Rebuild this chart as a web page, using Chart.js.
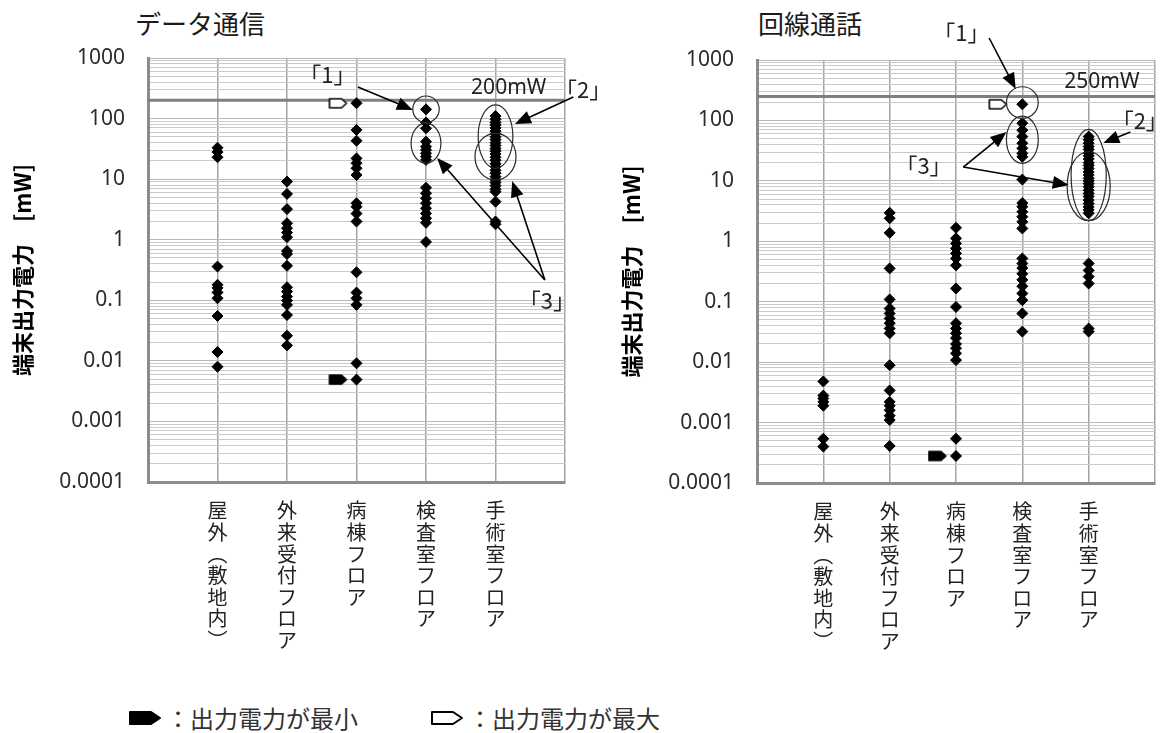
<!DOCTYPE html>
<html lang="ja">
<head>
<meta charset="utf-8">
<script src="https://cdn.jsdelivr.net/npm/chart.js@4.4.1/dist/chart.umd.min.js"></script>
<style>
  body { margin: 0; background: #fff; width: 1173px; height: 733px; position: relative; overflow: hidden;
         font-family: "Noto Sans CJK JP", "Noto Sans", sans-serif; color: #222; }
  .title { position: absolute; top: 7px; font-size: 26px; line-height: 32px; color: #1a1a1a; }
  canvas { position: absolute; top: 0; }
  #commChart { left: 0; }
  #voiceChart { left: 609px; }
  .legend { position: absolute; top: 702px; font-size: 24px; line-height: 32px; color: #333; display: flex; align-items: center; }
  .legend svg { margin-right: 4px; }
</style>
</head>
<body>
<div class="title" style="left:135px">データ通信</div>
<div class="title" style="left:758px">回線通話</div>
<canvas id="commChart" width="608" height="700"></canvas>
<canvas id="voiceChart" width="564" height="700"></canvas>
<div class="legend" style="left:128px">
  <svg width="34" height="16"><path d="M2 2 H23 L32 8 L23 14 H2 Z" fill="#000" stroke="#000" stroke-width="2" stroke-linejoin="round"/></svg>
  <span>：出力電力が最小</span>
</div>
<div class="legend" style="left:430px">
  <svg width="34" height="16"><path d="M2 2 H23 L32 8 L23 14 H2 Z" fill="#fff" stroke="#000" stroke-width="2" stroke-linejoin="round"/></svg>
  <span>：出力電力が最大</span>
</div>
<script>
// categories (x axis) and y tick labels
const categories = ["屋外（敷地内）", "外来受付フロア", "病棟フロア", "検査室フロア", "手術室フロア"];
const yTickLabels = ["1000", "100", "10", "1", "0.1", "0.01", "0.001", "0.0001"];

// データ通信 [mW]
const commOutdoor = [33, 28, 23, 0.36, 0.18, 0.16, 0.135, 0.108, 0.055, 0.014, 0.008];
const commReception = [9.1, 5.7, 3.2, 1.87, 1.55, 1.31, 1.1, 0.65, 0.58, 0.37, 0.164, 0.139, 0.115, 0.099, 0.084, 0.057, 0.026, 0.018];
const commWard = [179, 65, 43, 22, 18.3, 15.1, 11.7, 4.0, 3.5, 2.7, 2.0, 0.29, 0.134, 0.108, 0.084, 0.0091, 0.0049];
const commExam = [142, 86, 69, 41.6, 34.4, 30.3, 26.7, 23.5, 20.8, 7.2, 5.85, 4.84, 4.0, 3.3, 2.7, 2.26, 1.9, 0.92];
const commSurgery = [110, 97, 86, 78, 70, 62, 56, 50, 45, 40, 36, 32, 29, 26, 23, 20.5, 18, 16, 14, 12.5, 11, 9.8, 8.8, 7.8, 6.8, 6.2, 4.25, 2.0, 1.8];
const commMax = [{ cat: 3, value: 179 }];
const commMin = [{ cat: 3, value: 0.0049 }];
const commLimit = 200;

// 回線通話 [mW]
const voiceOutdoor = [0.0048, 0.0028, 0.0025, 0.0022, 0.0019, 0.00054, 0.0004];
const voiceReception = [2.96, 2.4, 1.38, 0.356, 0.109, 0.077, 0.064, 0.053, 0.044, 0.036, 0.03, 0.0089, 0.0034, 0.0022, 0.0019, 0.0016, 0.0013, 0.0011, 0.00041];
const voiceWard = [1.67, 1.12, 0.92, 0.76, 0.63, 0.52, 0.4, 0.166, 0.082, 0.044, 0.036, 0.03, 0.025, 0.02, 0.017, 0.014, 0.0108, 0.00054, 0.00028];
const voiceExam = [185, 90, 69, 54, 42, 34.5, 28.5, 25, 10.5, 4.3, 3.73, 3.08, 2.55, 2.1, 1.63, 0.52, 0.43, 0.36, 0.29, 0.23, 0.18, 0.137, 0.106, 0.064, 0.032];
const voiceSurgery = [54, 48, 42, 37, 33, 29, 26, 23, 20, 18, 16, 14, 12.5, 11, 10, 9, 8, 7, 6.2, 5.5, 4.8, 4.2, 3.7, 3.3, 2.9, 0.43, 0.33, 0.26, 0.2, 0.036, 0.032];
const voiceMax = [{ cat: 4, value: 185 }];
const voiceMin = [{ cat: 3, value: 0.00028 }];
const voiceLimit = 250;

const tickValues = yTickLabels.map(Number);

// gridlines: decades plus 2..9 in between
const gridValues = [];
for (let e = -4; e <= 3; e++) {
  for (let m = 1; m <= 9; m++) {
    if (e === 3 && m > 1) break;
    gridValues.push(m * Math.pow(10, e));
  }
}

const vertical = (s) => Array.from(s).map((ch) => (ch === "（" ? "︵" : ch === "）" ? "︶" : ch));

const isDecade = (v) => tickValues.some((t) => Math.abs(Math.log10(v) - Math.log10(t)) < 1e-6);

// tag shaped marker, drawn left of the point
function makeTag(fill, gap) {
  const w = 18, h = 9;
  const c = document.createElement("canvas");
  c.width = 2 * (w + gap + 2);
  c.height = h + 4;
  const g = c.getContext("2d");
  g.beginPath();
  g.moveTo(2, 2);
  g.lineTo(w - 4, 2);
  g.lineTo(w + 1, 2 + h / 2);
  g.lineTo(w - 4, 2 + h);
  g.lineTo(2, 2 + h);
  g.closePath();
  g.fillStyle = fill;
  g.fill();
  g.lineJoin = "round";
  g.lineWidth = 1.6;
  g.strokeStyle = "#000";
  g.stroke();
  return c;
}

const marksPlugin = {
  id: "marks",
  afterDatasetsDraw(chart, args, opts) {
    const { ctx } = chart;
    const x = chart.scales.x, y = chart.scales.y;
    ctx.save();
    ctx.strokeStyle = "#2a2a2a";
    ctx.lineWidth = 1.2;
    (opts.ellipses || []).forEach((e) => {
      const cx = x.getPixelForValue(e.cat);
      const top = y.getPixelForValue(e.top);
      const bot = y.getPixelForValue(e.bottom);
      const rx = x.getPixelForValue(e.cat + e.half) - cx;
      ctx.beginPath();
      ctx.ellipse(cx, (top + bot) / 2, rx, (bot - top) / 2, 0, 0, Math.PI * 2);
      ctx.stroke();
    });
    ctx.fillStyle = "#000";
    ctx.strokeStyle = "#000";
    ctx.lineWidth = 1.6;
    (opts.arrows || []).forEach((a) => {
      const x1 = x.getPixelForValue(a.from[0]), y1 = y.getPixelForValue(a.from[1]);
      const x2 = x.getPixelForValue(a.to[0]), y2 = y.getPixelForValue(a.to[1]);
      const ang = Math.atan2(y2 - y1, x2 - x1);
      const cos = Math.cos(ang), sin = Math.sin(ang);
      const len = 16, wid = 6.5;
      ctx.beginPath();
      ctx.moveTo(x1, y1);
      ctx.lineTo(x2 - cos * len * 0.7, y2 - sin * len * 0.7);
      ctx.stroke();
      ctx.beginPath();
      ctx.moveTo(x2, y2);
      ctx.lineTo(x2 - len * cos + wid * sin, y2 - len * sin - wid * cos);
      ctx.lineTo(x2 - len * cos - wid * sin, y2 - len * sin + wid * cos);
      ctx.closePath();
      ctx.fill();
    });
    ctx.textAlign = "center";
    ctx.textBaseline = "middle";
    ctx.fillStyle = "#222";
    (opts.labels || []).forEach((l) => {
      ctx.font = l.text.includes("mW") ? '21px "Noto Sans", sans-serif' : '22px "Noto Sans CJK JP", sans-serif';
      ctx.fillText(l.text, x.getPixelForValue(l.x), y.getPixelForValue(l.y));
    });
    ctx.restore();
  },
};

function buildChart(id, series, maxMarks, minMarks, limit, geo, marks) {
  const points = [];
  series.forEach((vals, i) => vals.forEach((v) => points.push({ x: i + 1, y: v })));
  return new Chart(document.getElementById(id), {
    type: "scatter",
    data: {
      datasets: [
        {
          data: points,
          pointStyle: "rectRot",
          pointRadius: 5.5,
          borderWidth: 1,
          backgroundColor: "#000",
          borderColor: "#000",
          order: 1,
        },
        {
          data: maxMarks.map((m) => ({ x: m.cat, y: m.value })),
          pointStyle: makeTag("#fff", geo.maxGap),
          order: 0,
        },
        {
          data: minMarks.map((m) => ({ x: m.cat, y: m.value })),
          pointStyle: makeTag("#000", 9),
          order: 0,
        },
        {
          type: "line",
          data: [{ x: 0, y: limit }, { x: 6, y: limit }],
          borderColor: "#7f7f7f",
          borderWidth: 3,
          pointRadius: 0,
          order: 2,
        },
      ],
    },
    options: {
      responsive: false,
      animation: false,
      events: [],
      layout: { padding: { top: geo.top, right: geo.right, bottom: 0, left: 0 } },
      plugins: { legend: { display: false }, tooltip: { enabled: false }, marks },
      scales: {
        x: {
          type: "linear",
          min: 0,
          max: 6,
          afterBuildTicks: (s) => { s.ticks = [0, 1, 2, 3, 4, 5, 6].map((v) => ({ value: v })); },
          afterFit: (s) => { s.height = geo.xHeight; },
          border: { color: "#8c8c8c", width: 3 },
          grid: {
            drawTicks: false,
            color: (c) => (c.tick && c.tick.value === 0 ? "rgba(0,0,0,0)" : "#a3a3a3"),
            lineWidth: 1.5,
          },
          ticks: {
            autoSkip: false,
            maxRotation: 0,
            minRotation: 0,
            padding: 18,
            color: "#222",
            font: { family: '"Noto Sans CJK JP", sans-serif', size: 20, lineHeight: 1.08 },
            callback: (v) => (v >= 1 && v <= 5 ? vertical(categories[v - 1]) : ""),
          },
        },
        y: {
          type: "logarithmic",
          min: 0.0001,
          max: 1000,
          afterBuildTicks: (s) => { s.ticks = gridValues.map((v) => ({ value: v })); },
          afterFit: (s) => { s.width = 148; },
          border: { color: "#8c8c8c", width: 3 },
          grid: {
            drawTicks: false,
            color: (c) => (c.tick && isDecade(c.tick.value) ? "#b8b8b8" : "#cacaca"),
            lineWidth: 1,
          },
          ticks: {
            autoSkip: false,
            padding: 23,
            color: "#2b2b2b",
            font: { family: '"Noto Sans", sans-serif', size: 21 },
            callback: (v) => {
              const i = tickValues.findIndex((t) => Math.abs(Math.log10(v) - Math.log10(t)) < 1e-6);
              return i >= 0 ? yTickLabels[i] : "";
            },
          },
          title: {
            display: true,
            text: "端末出力電力　[mW]",
            color: "#000",
            padding: { top: 9 },
            font: { family: '"Noto Sans CJK JP", sans-serif', size: 22, weight: "bold" },
          },
        },
      },
    },
    plugins: [marksPlugin],
  });
}

buildChart(
  "commChart",
  [commOutdoor, commReception, commWard, commExam, commSurgery],
  commMax, commMin, commLimit,
  { top: 58, right: 43, xHeight: 218, maxGap: 9 },
  {
    ellipses: [
      { cat: 4, top: 236, bottom: 86, half: 0.19 },
      { cat: 4, top: 84, bottom: 18.3, half: 0.215 },
      { cat: 5, top: 168, bottom: 15.1, half: 0.25 },
      { cat: 5, top: 57, bottom: 9.7, half: 0.295 },
    ],
    arrows: [
      { from: [3.02, 332], to: [3.81, 139] },
      { from: [6.12, 227], to: [5.28, 81.5] },
      { from: [5.71, 0.217], to: [4.16, 22.4] },
      { from: [5.71, 0.217], to: [5.24, 9.3] },
    ],
    labels: [
      { text: "「1」", x: 2.58, y: 525 },
      { text: "「2」", x: 6.26, y: 296 },
      { text: "「3」", x: 5.74, y: 0.1 },
      { text: "200mW", x: 5.19, y: 320 },
    ],
  }
);

buildChart(
  "voiceChart",
  [voiceOutdoor, voiceReception, voiceWard, voiceExam, voiceSurgery],
  voiceMax, voiceMin, voiceLimit,
  { top: 60, right: 1, xHeight: 217, maxGap: 15 },
  {
    ellipses: [
      { cat: 4, top: 361, bottom: 108, half: 0.24 },
      { cat: 4, top: 118, bottom: 19.5, half: 0.24 },
      { cat: 5, top: 71, bottom: 2.19, half: 0.265 },
      { cat: 5, top: 30.3, bottom: 2.19, half: 0.325 },
    ],
    arrows: [
      { from: [3.5, 2312], to: [3.9, 331] },
      { from: [5.63, 64.3], to: [5.22, 42.3] },
      { from: [3.11, 16.9], to: [3.76, 64.3] },
      { from: [3.11, 16.9], to: [4.7, 8.5] },
    ],
    labels: [
      { text: "「1」", x: 3.08, y: 2800 },
      { text: "「2」", x: 5.77, y: 97.7 },
      { text: "「3」", x: 2.51, y: 17.6 },
      { text: "250mW", x: 5.2, y: 432 },
    ],
  }
);
</script>
</body>
</html>
